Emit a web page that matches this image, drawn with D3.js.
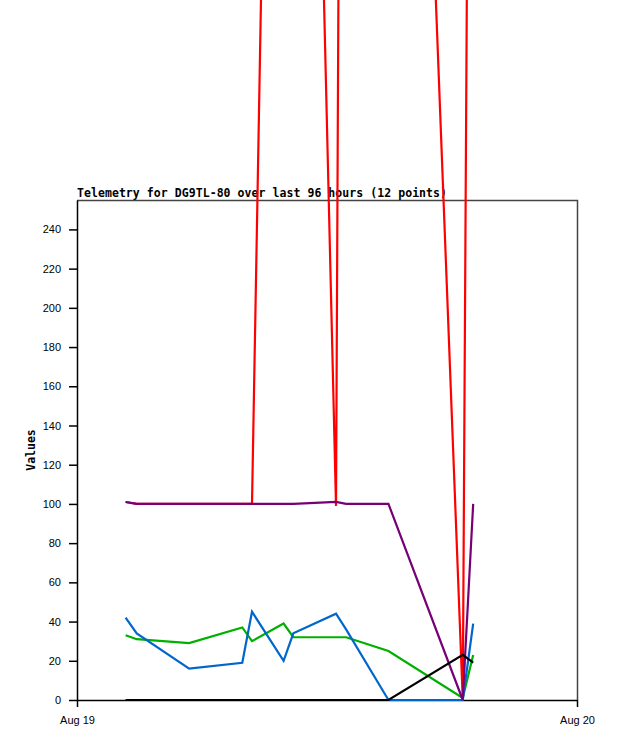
<!DOCTYPE html>
<html>
<head>
<meta charset="utf-8">
<script src="https://cdn.jsdelivr.net/npm/d3@7"></script>
<style>
  body { margin: 0; background: #fff; }
  svg { display: block; }
</style>
</head>
<body>
<svg id="chart" width="618" height="741"></svg>
<script>
const times = [
  "2023-08-19T02:20Z", "2023-08-19T02:52Z", "2023-08-19T05:23Z",
  "2023-08-19T07:56Z", "2023-08-19T08:24Z", "2023-08-19T09:55Z",
  "2023-08-19T10:23Z", "2023-08-19T12:26Z", "2023-08-19T12:55Z",
  "2023-08-19T14:57Z", "2023-08-19T18:31Z", "2023-08-19T19:01Z",
].map((t) => new Date(t));

const ch1 = [101, 100, 100, 100, 100, 1004, 1014, 99, 1200, 985, 0, 920];
const ch2 = [33, 31, 29, 37, 30, 39, 32, 32, 32, 25, 1, 23];
const ch3 = [42, 34, 16, 19, 45, 20, 34, 44, 36, 0, 0, 39];
const ch4 = [101, 100, 100, 100, 100, 100, 100, 101, 100, 100, 0, 100];
const ch5 = [0, 0, 0, 0, 0, 0, 0, 0, 0, 0, 23, 19];

const yTicks = [0, 20, 40, 60, 80, 100, 120, 140, 160, 180, 200, 220, 240];
const xTickLabels = ["Aug 19", "Aug 20"];
const xDomain = [new Date("2023-08-19T00:00Z"), new Date("2023-08-20T00:00Z")];

const margin = { top: 200, right: 41, bottom: 41, left: 77 };
const width = 618, height = 741;

const svg = d3.select("#chart");

const x = d3.scaleUtc().domain(xDomain).range([margin.left, width - margin.right]);
const y = d3.scaleLinear().domain([0, 255]).range([height - margin.bottom, margin.top]);

// frame (top and right)
svg.append("path")
  .attr("d", `M${x.range()[0]},${y.range()[1] + 0.5}H${x.range()[1] + 0.5}V${y.range()[0]}`)
  .attr("fill", "none")
  .attr("stroke", "#444")
  .attr("stroke-width", 1.5);

// y axis
const yAxis = svg.append("g")
  .attr("transform", `translate(${margin.left},0)`)
  .call(d3.axisLeft(y).tickValues(yTicks).tickSize(8).tickPadding(8).tickSizeOuter(0));
yAxis.select(".domain").attr("stroke", "#000").attr("stroke-width", 1.5);
yAxis.selectAll(".tick line").attr("stroke", "#000").attr("stroke-width", 1.5);
yAxis.selectAll("text")
  .attr("font-family", "Liberation Sans, Arial, sans-serif")
  .attr("font-size", 11)
  .attr("fill", "#000");

// x axis
const xAxis = svg.append("g")
  .attr("transform", `translate(0,${height - margin.bottom})`)
  .call(d3.axisBottom(x).tickValues(xDomain).tickSize(7).tickPadding(9).tickSizeOuter(0)
    .tickFormat((d, i) => xTickLabels[i]));
xAxis.select(".domain").attr("stroke", "#000").attr("stroke-width", 1.5);
xAxis.selectAll(".tick line").attr("stroke", "#000").attr("stroke-width", 1.5);
xAxis.selectAll("text")
  .attr("font-family", "Liberation Sans, Arial, sans-serif")
  .attr("font-size", 11)
  .attr("fill", "#000");

// labels
svg.append("text")
  .attr("x", margin.left)
  .attr("y", 197)
  .attr("font-family", "DejaVu Sans Mono, monospace")
  .attr("font-weight", "bold")
  .attr("font-size", 11.5)
  .attr("textLength", 370)
  .text("Telemetry for DG9TL-80 over last 96 hours (12 points)");

svg.append("text")
  .attr("transform", `translate(35,${(y.range()[0] + y.range()[1]) / 2}) rotate(-90)`)
  .attr("text-anchor", "middle")
  .attr("font-family", "DejaVu Sans Mono, monospace")
  .attr("font-weight", "bold")
  .attr("font-size", 11.5)
  .text("Values");

// series
const series = [
  { values: ch1, color: "#ff0000" },
  { values: ch2, color: "#00b000" },
  { values: ch3, color: "#0066cc" },
  { values: ch4, color: "#770077" },
  { values: ch5, color: "#000000" },
];

const line = d3.line()
  .x((d, i) => x(times[i]))
  .y((d) => y(d));

svg.selectAll(".series")
  .data(series)
  .join("path")
  .attr("class", "series")
  .attr("d", (d) => line(d.values))
  .attr("fill", "none")
  .attr("stroke", (d) => d.color)
  .attr("stroke-width", 2.2);
</script>
</body>
</html>
